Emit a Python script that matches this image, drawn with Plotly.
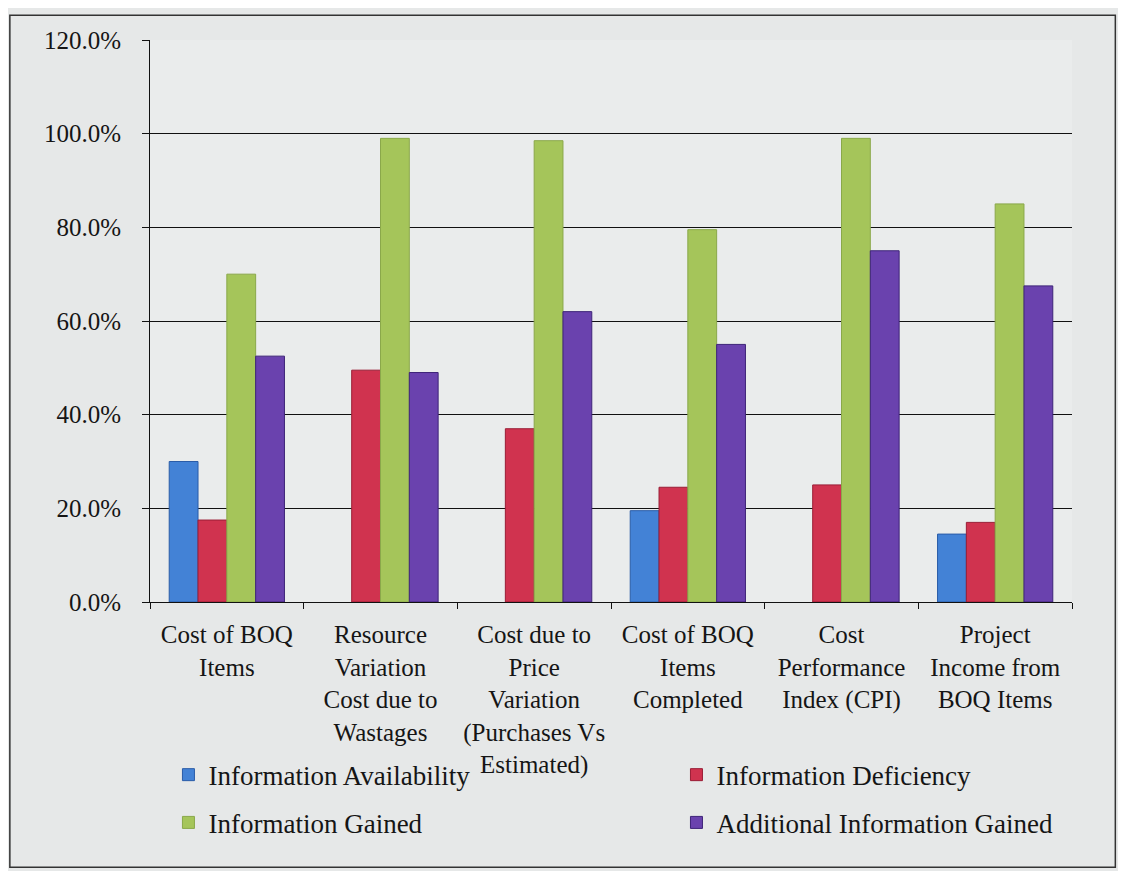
import plotly.graph_objects as go

categories = [
    "Cost of BOQ<br>Items",
    "Resource<br>Variation<br>Cost due to<br>Wastages",
    "Cost due to<br>Price<br>Variation<br>(Purchases Vs<br>Estimated)",
    "Cost of BOQ<br>Items<br>Completed",
    "Cost<br>Performance<br>Index (CPI)",
    "Project<br>Income from<br>BOQ Items",
]
info_availability = [30.0, 0.0, 0.0, 19.5, 0.0, 14.5]
info_deficiency = [17.5, 49.5, 37.0, 24.5, 25.0, 17.0]
info_gained = [70.0, 99.0, 98.5, 79.5, 99.0, 85.0]
additional_info_gained = [52.5, 49.0, 62.0, 55.0, 75.0, 67.5]

y_tick_vals = [0, 20, 40, 60, 80, 100, 120]
y_tick_text = ["0.0%", "20.0%", "40.0%", "60.0%", "80.0%", "100.0%", "120.0%"]

FONT = "Liberation Serif"
TXT = "#151515"

series = [
    ("Information Availability", info_availability, "#4382D6", "#2A5CA8", "legend"),
    ("Information Deficiency", info_deficiency, "#D0334F", "#9A1E36", "legend2"),
    ("Information Gained", info_gained, "#A5C55A", "#8AA84A", "legend3"),
    ("Additional Information Gained", additional_info_gained, "#6A42AE", "#3E2478", "legend4"),
]

fig = go.Figure()
for name, vals, color, line, lg in series:
    fig.add_trace(go.Bar(
        x=categories, y=vals, name=name,
        marker=dict(color=color,
                    line=dict(color=line, width=[0 if v == 0 else 1 for v in vals])),
        legend=lg,
    ))

def legend_box(x, y):
    return dict(
        orientation="h", x=x, y=y, xanchor="left", yanchor="middle",
        font=dict(family=FONT, size=27, color=TXT),
        bgcolor="rgba(0,0,0,0)", itemclick=False, itemdoubleclick=False,
    )

col1, col2 = 0.02, 0.571
row1, row2 = -0.308, -0.393

fig.update_layout(
    width=1110, height=863,
    paper_bgcolor="#E6E8E8",
    plot_bgcolor="#EAECEC",
    margin=dict(l=142, r=46, t=32, b=269),
    barmode="group",
    bargap=0.25,
    bargroupgap=0,
    font=dict(family=FONT, size=24, color=TXT),
    legend=legend_box(col1, row1),
    legend2=legend_box(col2, row1),
    legend3=legend_box(col1, row2),
    legend4=legend_box(col2, row2),
    showlegend=True,
)

fig.update_xaxes(
    showline=True, linecolor="#111111", linewidth=1,
    ticks="outside", tickson="boundaries", ticklen=6, tickcolor="#111111",
    tickangle=0, showgrid=False, ticklabelstandoff=10,
    tickfont=dict(family=FONT, size=25, color=TXT),
)
fig.update_yaxes(
    range=[0, 120], tickvals=y_tick_vals, ticktext=y_tick_text,
    showline=True, linecolor="#111111", linewidth=1,
    ticks="outside", ticklen=7, tickcolor="#111111",
    showgrid=True, gridcolor="#111111", gridwidth=1.3,
    zeroline=False, ticklabelstandoff=16,
    tickfont=dict(family=FONT, size=25, color=TXT),
)

# outer chart border
fig.add_shape(type="rect", xref="paper", yref="paper",
              x0=-0.152, x1=1.047, y0=-0.472, y1=1.044,
              line=dict(color="#333333", width=1.5), fillcolor="rgba(0,0,0,0)",
              layer="below")

fig.write_html("out.html")
